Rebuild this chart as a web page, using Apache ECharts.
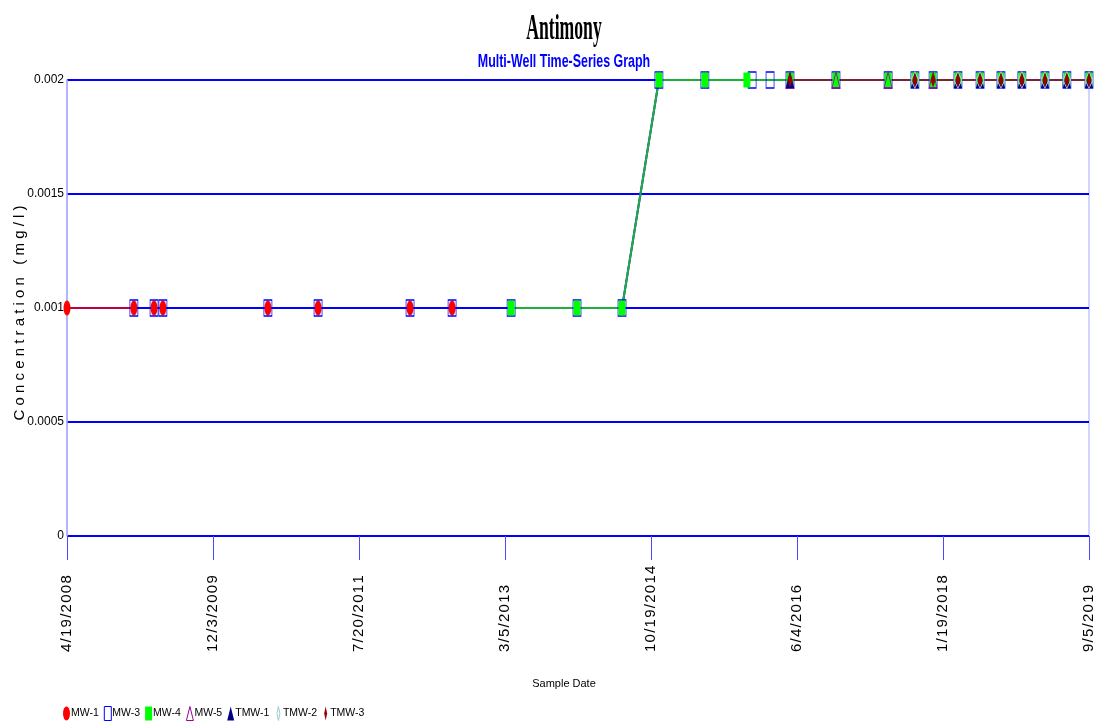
<!DOCTYPE html>
<html><head><meta charset="utf-8">
<script src="https://cdn.jsdelivr.net/npm/echarts@6/dist/echarts.min.js"></script>
<style>html,body{margin:0;padding:0;background:#fff}#c{width:1112px;height:727px}</style>
</head><body><div id="c"></div><script>
// ---- data ----
const startDate = '2008-04-19';
const endDate = '2019-09-05';
const xTickLabels = ['4/19/2008','12/3/2009','7/20/2011','3/5/2013','10/19/2014','6/4/2016','1/19/2018','9/5/2019'];
const yTicks = [0, 0.0005, 0.001, 0.0015, 0.002];
const seriesNames = ['MW-1','MW-3','MW-4','MW-5','TMW-1','TMW-2','TMW-3'];

const mw1Dates = ['2008-04-19','2009-01-16','2009-04-08','2009-05-14','2010-07-15','2011-02-04','2012-02-13','2012-08-02'];
const mw1Values = [0.001,0.001,0.001,0.001,0.001,0.001,0.001,0.001];

const mw3Dates = ['2009-01-16','2009-04-08','2009-05-14','2010-07-15','2011-02-04','2012-02-13','2012-08-02','2013-03-30','2013-12-23','2014-06-24','2014-11-21','2015-05-27','2015-12-05','2016-02-16','2016-05-07','2016-11-10','2017-06-10','2017-09-27','2017-12-10','2018-03-21','2018-06-19','2018-09-12','2018-12-06','2019-03-10','2019-06-07','2019-09-05'];
const mw3Values = [0.001,0.001,0.001,0.001,0.001,0.001,0.001,0.001,0.001,0.001,0.002,0.002,0.002,0.002,0.002,0.002,0.002,0.002,0.002,0.002,0.002,0.002,0.002,0.002,0.002,0.002];

const mw4Dates = ['2013-03-30','2013-12-23','2014-06-24','2014-11-21','2015-05-27','2015-11-14','2016-05-07','2016-11-10','2017-06-10','2017-09-27','2017-12-10','2018-03-21','2018-06-19','2018-09-12','2018-12-06','2019-03-10','2019-06-07','2019-09-05'];
const mw4Values = [0.001,0.001,0.001,0.002,0.002,0.002,0.002,0.002,0.002,0.002,0.002,0.002,0.002,0.002,0.002,0.002,0.002,0.002];

const mw5Dates = ['2016-05-07','2016-11-10','2017-06-10','2017-12-10'];
const mw5Values = [0.002,0.002,0.002,0.002];

const tmw1Dates = ['2016-05-07','2017-09-27','2018-03-21','2018-06-19','2018-09-12','2018-12-06','2019-03-10','2019-06-07','2019-09-05'];
const tmw1Values = [0.002,0.002,0.002,0.002,0.002,0.002,0.002,0.002,0.002];

const tmw2Dates = ['2017-09-27','2018-03-21','2018-06-19','2018-09-12','2018-12-06','2019-03-10','2019-06-07','2019-09-05'];
const tmw2Values = [0.002,0.002,0.002,0.002,0.002,0.002,0.002,0.002];

const tmw3Dates = ['2016-05-07','2017-09-27','2017-12-10','2018-03-21','2018-06-19','2018-09-12','2018-12-06','2019-03-10','2019-06-07','2019-09-05'];
const tmw3Values = [0.002,0.002,0.002,0.002,0.002,0.002,0.002,0.002,0.002,0.002];

// ---- helpers ----
const DAY = 86400000;
const t0 = Date.parse(startDate + 'T00:00:00Z');
function isoDays(s){ return Math.round((Date.parse(s + 'T00:00:00Z') - t0) / DAY); }
function mdyDays(s){ const p = s.split('/'); return Math.round((Date.UTC(+p[2], +p[0]-1, +p[1]) - t0) / DAY); }
function fmt(v){ const d = new Date(t0 + Math.round(v) * DAY); return ((d.getUTCMonth()+1) + '/' + d.getUTCDate() + '/' + d.getUTCFullYear()).split('').join('\u200A'); }
function pts(ds, vs){ return ds.map((d,i)=>[isoDays(d), vs[i]]); }

const SANS = "'Liberation Sans',Arial,sans-serif";
const ellipse = 'path://M0,7A3.5,7,0,1,0,7,7A3.5,7,0,1,0,0,7Z';
const diamondNarrow = 'path://M0,0M7,14M3.5,0L5,7L3.5,14L2,7Z';

const chart = echarts.init(document.getElementById('c'), null, {renderer:'canvas'});
function line(name, data, color, symbol, size, itemStyle, lw){
  return {name, type:'line', data, symbol, symbolSize:size, showSymbol:true, symbolKeepAspect:false,
    lineStyle:{color, width:lw||2}, itemStyle, silent:true, animation:false,
    emphasis:{disabled:true}};
}
chart.setOption({
  animation:false,
  graphic:[
    {type:'text', x:564, y:30, scaleX:0.49, silent:true,
      style:{text:'Antimony', font:"bold 36px 'Liberation Serif'", fill:'#000', align:'center', verticalAlign:'middle'}},
    {type:'text', x:564, y:62, scaleX:0.655, silent:true,
      style:{text:'Multi-Well Time-Series Graph', font:"bold 19px 'Liberation Sans'", fill:'#0000ff', align:'center', verticalAlign:'middle'}}
  ],
  grid:{left:67, right:23, top:80, bottom:191, show:true, borderColor:'#a8a8ff', borderWidth:1, outerBoundsMode:'none', containLabel:false},
  legend:{left:63, top:706, padding:0, itemWidth:7, itemHeight:14, itemGap:5, symbolKeepAspect:false,
    textStyle:{fontFamily:SANS, fontSize:10.5, color:'#000', padding:[0,0,0,-4]},
    data:[
      {name:'MW-1', icon:ellipse, itemStyle:{color:'#ff0000', borderWidth:0}},
      {name:'MW-3', icon:'rect', itemStyle:{color:'#ffffff', borderColor:'#0000ff', borderWidth:1}},
      {name:'MW-4', icon:'rect', itemStyle:{color:'#00ff00', borderWidth:0}},
      {name:'MW-5', icon:'triangle', itemStyle:{color:'#ffffff', borderColor:'#990099', borderWidth:1}},
      {name:'TMW-1', icon:'triangle', itemStyle:{color:'#000080', borderWidth:0}},
      {name:'TMW-2', icon:diamondNarrow, itemStyle:{color:'#ffffff', borderColor:'#99cccc', borderWidth:1}},
      {name:'TMW-3', icon:diamondNarrow, itemStyle:{color:'#990000', borderWidth:0}}
    ]},
  xAxis:{type:'value', min:isoDays(startDate), max:isoDays(endDate),
    name:'Sample Date', nameLocation:'middle', nameGap:142, nameMoveOverlap:false,
    nameTextStyle:{fontFamily:SANS, fontSize:11, color:'#000', padding:[0,28,0,0]},
    axisLine:{show:false},
    axisTick:{show:true, length:24, lineStyle:{color:'#4a4aff', width:1}, customValues:xTickLabels.map(mdyDays)},
    axisLabel:{show:true, rotate:90, align:'left', verticalAlign:'middle', margin:116, fontFamily:SANS, fontSize:15, color:'#000',
      customValues:xTickLabels.map(mdyDays), formatter:fmt, hideOverlap:false},
    splitLine:{show:false}},
  yAxis:{type:'value', min:yTicks[0], max:yTicks[yTicks.length-1], interval:yTicks[1]-yTicks[0],
    name:'C o n c e n t r a t i o n   ( m g / l )', nameLocation:'middle', nameGap:40, nameRotate:90, nameMoveOverlap:false,
    nameTextStyle:{fontFamily:SANS, fontSize:15, color:'#000', padding:[0,10,0,0]},
    axisLine:{show:true, lineStyle:{color:'#a8a8ff', width:1.5}},
    axisTick:{show:false},
    axisLabel:{margin:3, fontFamily:SANS, fontSize:12, color:'#000'},
    splitLine:{show:true, lineStyle:{color:'#0000ff', width:2}}},
  series:[
    line('MW-1', pts(mw1Dates, mw1Values), '#ff0000', ellipse, [7,15], {color:'#ff0000'}, 1.5),
    line('MW-3', pts(mw3Dates, mw3Values), '#0000ff', 'rect', [8,16], {color:'rgba(0,0,0,0)', borderColor:'#0000ff', borderWidth:1}),
    line('MW-4', pts(mw4Dates, mw4Values), '#1fae3a', 'rect', [7,15], {color:'#00ff00'}),
    line('MW-5', pts(mw5Dates, mw5Values), '#990099', 'triangle', [8,16], {color:'rgba(0,0,0,0)', borderColor:'#990099', borderWidth:1}),
    line('TMW-1', pts(tmw1Dates, tmw1Values), '#000080', 'triangle', [8,16], {color:'#000080'}),
    line('TMW-2', pts(tmw2Dates, tmw2Values), '#99cccc', 'diamond', [8,16], {color:'rgba(0,0,0,0)', borderColor:'#b8dada', borderWidth:1}),
    line('TMW-3', pts(tmw3Dates, tmw3Values), '#7d2232', 'diamond', [5,15], {color:'#990000'})
  ]
});
</script></body></html>
